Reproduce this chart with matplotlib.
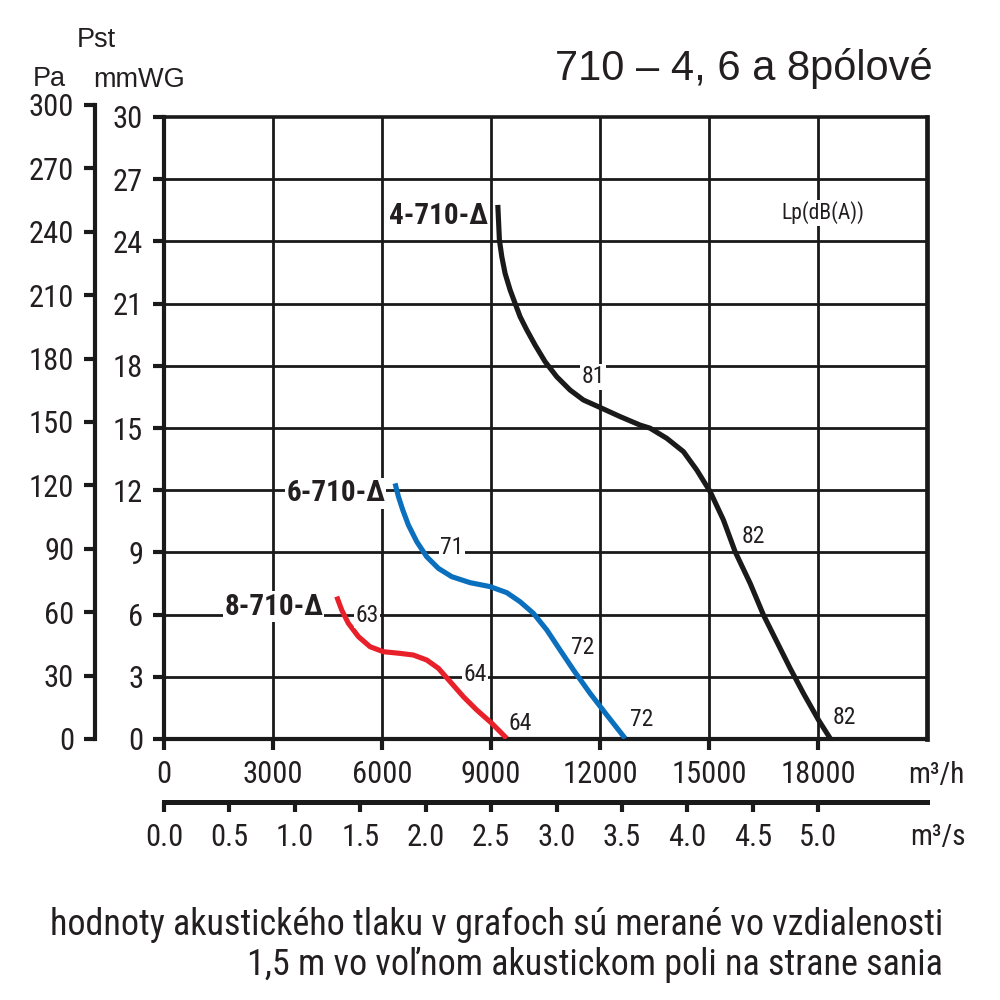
import matplotlib
matplotlib.use("Agg")
import matplotlib.pyplot as plt
from matplotlib import font_manager as fm
import numpy as np

# pick a condensed face for tick labels if one is installed
installed = {f.name for f in fm.fontManager.ttflist}
narrow_face = None
for cand in ['Liberation Sans Narrow', 'Arial Narrow', 'Roboto Condensed',
             'Open Sans Condensed', 'Noto Sans Condensed', 'DejaVu Sans Condensed']:
    if cand in installed:
        narrow_face = cand
        break

REGULAR = ['Liberation Sans', 'DejaVu Sans']
if narrow_face:
    NARROW = [narrow_face] + REGULAR
    S_TICK, S_NAME, S_NOTE, S_UNIT = 22, 21, 26, 21
else:
    NARROW = REGULAR
    S_TICK, S_NAME, S_NOTE, S_UNIT = 20, 20, 23, 20
INK = '#231f20'

# fan curves: flow (m3/h) vs static pressure (mmWG)
q_4pole = [9185, 9229, 9295, 9385, 9523, 9661, 9798, 9982, 10211, 10486, 10808,
           11174, 11541, 12000, 12550, 13101, 13376, 13836, 14293, 14661, 15028,
           15394, 15716, 16128, 16495, 16863, 17229, 17595, 18008, 18330]
p_4pole = [25.76, 24.07, 23.26, 22.46, 21.66, 21.01, 20.37, 19.73, 19.00, 18.20, 17.47,
           16.83, 16.35, 15.99, 15.55, 15.14, 14.99, 14.50, 13.86, 12.97, 11.93,
           10.56, 9.03, 7.51, 5.98, 4.69, 3.41, 2.20, 0.92, 0.03]
q_6pole = [6358, 6450, 6569, 6725, 6954, 7229, 7550, 7917, 8422, 8972, 9431,
           9798, 10165, 10532, 10899, 11266, 11725, 12183, 12688]
p_6pole = [12.33, 11.69, 11.05, 10.32, 9.52, 8.79, 8.23, 7.83, 7.54, 7.35, 7.06,
           6.62, 6.06, 5.26, 4.29, 3.33, 2.20, 1.16, 0.03]
q_8pole = [4752, 4890, 5073, 5348, 5670, 6037, 6495, 6862, 7229, 7550, 7872,
           8238, 8605, 9018, 9431]
p_8pole = [6.87, 6.22, 5.58, 4.94, 4.45, 4.21, 4.13, 4.05, 3.81, 3.41, 2.77,
           2.04, 1.40, 0.76, 0.03]

# sound pressure labels Lp dB(A): (text, flow, pressure, white background)
lp_labels = [
    ("81", 11807, 17.46, True),
    ("82", 16210, 9.79, False),
    ("82", 18714, 1.06, False),
    ("71", 7926, 9.26, True),
    ("72", 11531, 4.39, False),
    ("72", 13155, 0.96, False),
    ("63", 5587, 5.98, True),
    ("64", 8559, 3.09, True),
    ("64", 9797, 0.77, False),
]
curve_names = [("4-710-Δ", 8917, 25.23), ("6-710-Δ", 6082, 11.86), ("8-710-Δ", 4376, 6.37)]

mmwg_ticks = np.arange(0, 31, 3)
pa_ticks = np.arange(0, 301, 30)
qh_ticks = np.arange(0, 18001, 3000)
qs_ticks = np.arange(0, 5.01, 0.5)
PA_PER_MMWG = 9.81
Q_MAX = 21000

fig = plt.figure(figsize=(10, 10), dpi=100)

# main chart
ax = fig.add_axes([0.164, 0.261, 0.7632, 0.622])
ax.set_xlim(0, Q_MAX)
ax.set_ylim(0, 30)
ax.set_yticks(mmwg_ticks)
ax.set_xticks(qh_ticks)
ax.set_xticklabels([str(v) for v in qh_ticks], family=NARROW, fontsize=S_TICK, color=INK)
ax.set_yticklabels([str(v) for v in mmwg_ticks], family=NARROW, fontsize=S_TICK, color=INK)
ax.tick_params(axis='both', direction='out', length=8, width=3, color='#1a1a1a', pad=7)
for v in mmwg_ticks[1:-1]:
    ax.axhline(v, color='#1a1a1a', lw=2.0, zorder=1)
for v in qh_ticks[1:]:
    ax.axvline(v, color='#1a1a1a', lw=2.0, zorder=1)
for side, lw in [('left', 3.0), ('top', 2.6), ('right', 3.4), ('bottom', 3.0)]:
    ax.spines[side].set_linewidth(lw)
    ax.spines[side].set_color('#1a1a1a')

line_kw = dict(lw=3.7, solid_capstyle='butt', solid_joinstyle='round', zorder=3)
ax.plot(q_4pole, p_4pole, color='#1a1a1a', **line_kw)
ax.plot(q_6pole, p_6pole, color='#0a70bd', **line_kw)
ax.plot(q_8pole, p_8pole, color='#e8202a', **line_kw)

for txt, x, y, bg in lp_labels:
    kw = dict(bbox=dict(facecolor='white', edgecolor='none', pad=1)) if bg else {}
    ax.text(x, y, txt, ha='center', va='center', family=NARROW, fontsize=17,
            color=INK, zorder=4, **kw)
for txt, x, y in curve_names:
    ax.text(x, y, txt, ha='right', va='center', family=NARROW, fontsize=S_NAME,
            fontweight='bold', color=INK, zorder=4,
            bbox=dict(facecolor='white', edgecolor='none', pad=1))
ax.text(18136, 25.37, "Lp(dB(A))", ha='center', va='center', family=NARROW,
        fontsize=15.5, color=INK, zorder=4,
        bbox=dict(facecolor='white', edgecolor='none', pad=1))

# Pa scale
ax_pa = fig.add_axes([0.095, 0.261, 0.0005, 0.622 * 300 / (30 * PA_PER_MMWG)])
ax_pa.set_ylim(0, 300)
ax_pa.set_yticks(pa_ticks)
ax_pa.set_yticklabels([str(v) for v in pa_ticks], family=NARROW, fontsize=S_TICK, color=INK)
ax_pa.tick_params(axis='y', direction='out', length=8, width=3, color='#1a1a1a', pad=7)
ax_pa.set_xticks([])
for side in ['top', 'right', 'bottom']:
    ax_pa.spines[side].set_visible(False)
ax_pa.spines['left'].set_linewidth(3.0)
ax_pa.spines['left'].set_color('#1a1a1a')
ax_pa.patch.set_visible(False)

# m3/s scale
ax_s = fig.add_axes([0.164, 0.198, 0.7632, 0.0005])
ax_s.set_xlim(0, Q_MAX / 3600)
ax_s.set_xticks(qs_ticks)
ax_s.set_xticklabels([f"{v:.1f}" for v in qs_ticks], family=NARROW, fontsize=S_TICK, color=INK)
ax_s.tick_params(axis='x', direction='out', length=7, width=3, color='#1a1a1a', pad=8)
ax_s.set_yticks([])
for side in ['top', 'right', 'left']:
    ax_s.spines[side].set_visible(False)
ax_s.spines['bottom'].set_linewidth(3.6)
ax_s.spines['bottom'].set_color('#1a1a1a')
ax_s.patch.set_visible(False)

# units and titles
fig.text(0.908, 1 - 0.775, "m³/h", ha='left', va='center', family=NARROW, fontsize=S_UNIT, color=INK)
fig.text(0.910, 1 - 0.837, "m³/s", ha='left', va='center', family=NARROW, fontsize=S_UNIT, color=INK)
fig.text(0.033, 1 - 0.086, "Pa", ha='left', va='baseline', family=REGULAR, fontsize=19.5, color=INK)
fig.text(0.077, 1 - 0.047, "Pst", ha='left', va='baseline', family=REGULAR, fontsize=19.5, color=INK)
fig.text(0.093, 1 - 0.087, "mmWG", ha='left', va='baseline', family=REGULAR, fontsize=19.5, color=INK)
fig.text(0.933, 1 - 0.080, "710 – 4, 6 a 8pólové", ha='right', va='baseline',
         family=REGULAR, fontsize=30, color=INK)
fig.text(0.943, 1 - 0.925, "hodnoty akustického tlaku v grafoch sú merané vo vzdialenosti",
         ha='right', va='center', family=NARROW, fontsize=S_NOTE, color=INK)
fig.text(0.943, 1 - 0.965, "1,5 m vo voľnom akustickom poli na strane sania",
         ha='right', va='center', family=NARROW, fontsize=S_NOTE, color=INK)

fig.savefig("out.png", dpi=100)
